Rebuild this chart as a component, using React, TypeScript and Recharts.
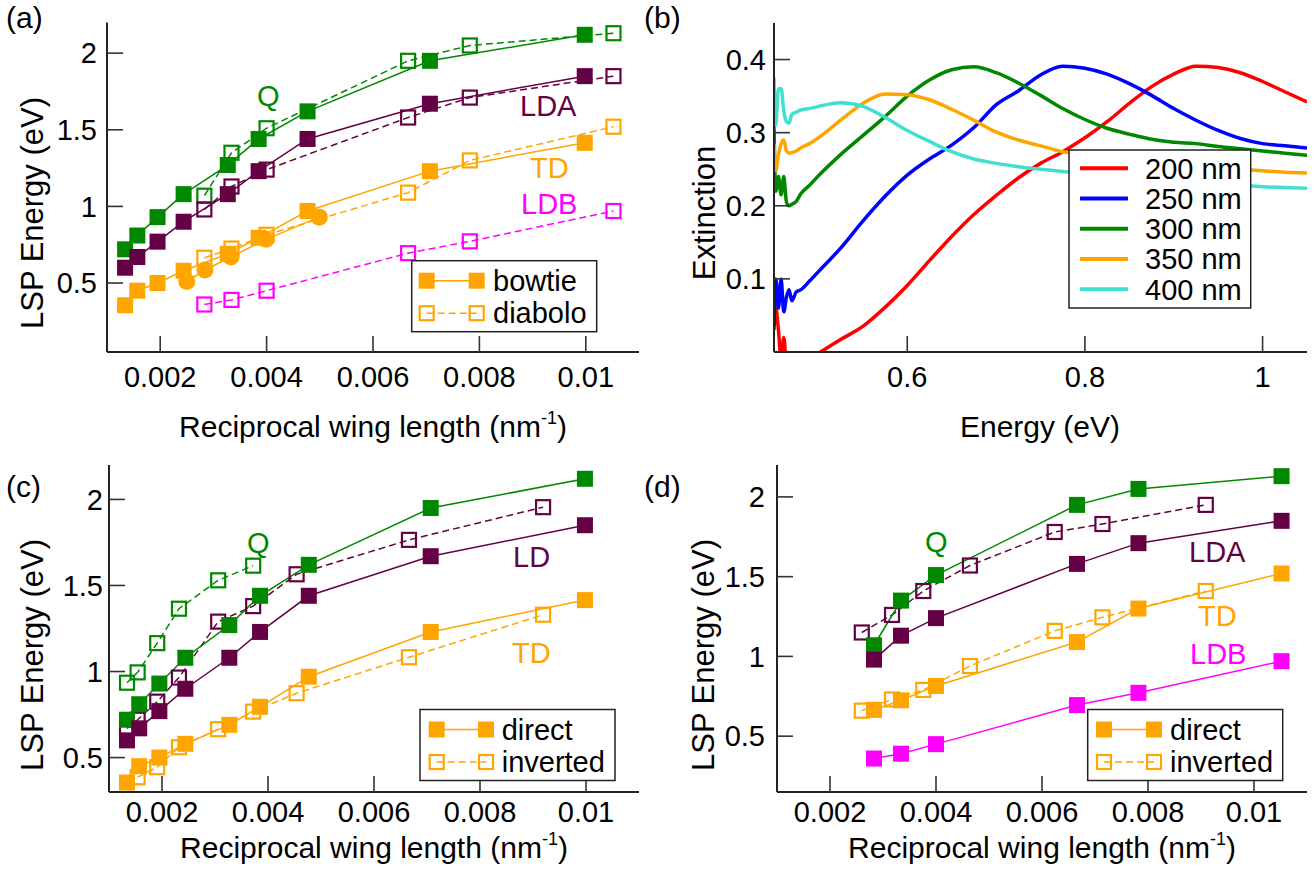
import React from 'react';
import { LineChart, Line, XAxis, YAxis } from 'recharts';

const FONT = '"Liberation Sans", Arial, Helvetica, sans-serif';
const GREEN = '#008800';
const PURPLE = '#660044';
const ORANGE = '#ffa500';
const MAGENTA = '#ff00ff';

// reciprocal wing lengths (nm^-1)
const bowtieX = [0.00134, 0.00157, 0.00195, 0.00244, 0.00327, 0.00385, 0.00477, 0.00707, 0.00998];
const diaboloX = [0.00283, 0.00334, 0.004, 0.00666, 0.00782, 0.01052];
const circleX = [0.0025, 0.00284, 0.00333, 0.00399, 0.00499];
const bowtieInvX = [0.00134, 0.00154, 0.00191, 0.00232, 0.00306, 0.00372, 0.00454, 0.00666, 0.00919];
const diaboloInvX = [0.0026, 0.00317, 0.00376, 0.00464, 0.00624, 0.00714, 0.00909];

// LSP energies (eV)
const bowtieQ = [0.72, 0.81, 0.93, 1.08, 1.27, 1.44, 1.62, 1.95, 2.12];
const bowtieLD = [0.6, 0.67, 0.77, 0.9, 1.08, 1.23, 1.44, 1.67, 1.85];
const bowtieTD = [0.355, 0.45, 0.5, 0.58, 0.69, 0.795, 0.97, 1.23, 1.415];
const diaboloQ = [1.07, 1.35, 1.51, 1.95, 2.05, 2.13];
const diaboloLDA = [0.98, 1.13, 1.24, 1.58, 1.71, 1.85];
const diaboloTD = [0.665, 0.725, 0.815, 1.09, 1.3, 1.52];
const diaboloLDB = [0.36, 0.39, 0.45, 0.695, 0.772, 0.97];
const circleTD = [0.51, 0.585, 0.67, 0.785, 0.93];
const bowtieInvQ = [0.935, 0.995, 1.165, 1.365, 1.53, 1.615];
const bowtieInvLD = [0.67, 0.72, 0.825, 0.965, 1.29, 1.38, 1.565, 1.765, 1.955];
const bowtieInvTD = [0.386, 0.444, 0.56, 0.665, 0.767, 0.874, 1.083, 1.33];
const diaboloInvLDA = [1.15, 1.26, 1.41, 1.57, 1.78, 1.83, 1.95];
const diaboloInvTD = [0.66, 0.73, 0.79, 0.94, 1.16, 1.245, 1.41];

// extinction spectra
const energyGrid = [0.45, 0.452, 0.455, 0.458, 0.461, 0.464, 0.467, 0.47, 0.475, 0.48, 0.49, 0.5, 0.525, 0.55, 0.575, 0.6, 0.625, 0.65, 0.675, 0.7, 0.725, 0.75, 0.775, 0.8, 0.825, 0.85, 0.875, 0.9, 0.925, 0.95, 0.975, 1.0, 1.025, 1.05];
const ext200 = [0.03, 0.06, 0.03, -0.01, 0.02, -0.02, -0.03, -0.03, -0.025, -0.02, -0.01, -0.002, 0.017, 0.035, 0.061, 0.091, 0.125, 0.158, 0.188, 0.214, 0.238, 0.258, 0.274, 0.293, 0.315, 0.34, 0.363, 0.38, 0.391, 0.389, 0.382, 0.37, 0.356, 0.342];
const ext250 = [0.035, 0.1, 0.06, 0.1, 0.055, 0.075, 0.085, 0.07, 0.082, 0.085, 0.097, 0.11, 0.142, 0.179, 0.213, 0.242, 0.264, 0.283, 0.307, 0.338, 0.357, 0.379, 0.391, 0.388, 0.38, 0.367, 0.351, 0.333, 0.317, 0.303, 0.292, 0.285, 0.282, 0.279];
const ext300 = [0.31, 0.22, 0.24, 0.215, 0.24, 0.205, 0.2, 0.202, 0.206, 0.216, 0.228, 0.241, 0.27, 0.296, 0.322, 0.35, 0.372, 0.386, 0.39, 0.382, 0.368, 0.351, 0.333, 0.318, 0.306, 0.298, 0.291, 0.287, 0.285, 0.281, 0.278, 0.275, 0.272, 0.269];
const ext350 = [0.285, 0.248, 0.27, 0.285, 0.29, 0.275, 0.272, 0.273, 0.275, 0.279, 0.285, 0.293, 0.317, 0.34, 0.353, 0.352, 0.345, 0.332, 0.317, 0.301, 0.29, 0.282, 0.274, 0.27, 0.266, 0.263, 0.26, 0.257, 0.255, 0.252, 0.25, 0.248, 0.246, 0.245];
const ext400 = [0.375, 0.31, 0.36, 0.36, 0.33, 0.315, 0.313, 0.325, 0.328, 0.331, 0.333, 0.336, 0.341, 0.336, 0.321, 0.303, 0.288, 0.274, 0.264, 0.258, 0.2535, 0.25, 0.247, 0.244, 0.241, 0.238, 0.236, 0.234, 0.232, 0.23, 0.228, 0.226, 0.225, 0.224];

// ticks
const wingTicks = [0.002, 0.004, 0.006, 0.008, 0.01];
const energyTicks = [0.5, 1, 1.5, 2];
const extEnergyTicks = [0.6, 0.8, 1];
const extTicks = [0.1, 0.2, 0.3, 0.4];
const spectraLabels = ['200 nm', '250 nm', '300 nm', '350 nm', '400 nm'];
const spectraColors = ['#ff0000', '#0000ff', GREEN, ORANGE, '#40e0d0'];

type Pt = { x: number; y: number };
const zip = (xs: number[], ys: number[]): Pt[] => ys.map((y, i) => ({ x: xs[i], y }));

type Marker = 'filled' | 'open' | 'circle' | 'none';
interface Series {
  id: string;
  data: Pt[];
  color: string;
  marker: Marker;
  dashed?: boolean;
  width?: number;
}

const makeDot = (color: string, marker: Marker) => (p: any) => {
  const k = `dot-${p.index}`;
  if (marker === 'none' || p.cx == null || p.cy == null) return <g key={k} />;
  if (marker === 'circle') return <circle key={k} cx={p.cx} cy={p.cy} r={8.5} fill={color} />;
  if (marker === 'filled')
    return <rect key={k} x={p.cx - 8} y={p.cy - 8} width={16} height={16} fill={color} />;
  return (
    <rect key={k} x={p.cx - 7} y={p.cy - 7} width={14} height={14} fill='none' stroke={color} strokeWidth={2.2} />
  );
};

interface PanelProps {
  left: number;
  top: number;
  width: number;
  height: number;
  margin: { top: number; right: number; bottom: number; left: number };
  xDomain: [number, number];
  yDomain: [number, number];
  xTicks: number[];
  yTicks: number[];
  xTickMargin: number;
  yTickMargin: number;
  series: Series[];
  curve?: 'linear' | 'monotone';
}

const tickStyle = { fill: '#000', fontSize: 29, fontFamily: FONT };
const frame = { stroke: '#222', strokeWidth: 2 };
const tickLn = { stroke: '#333', strokeWidth: 1.6 };

const Panel: React.FC<PanelProps> = (p) => (
  <div style={{ position: 'absolute', left: p.left, top: p.top }}>
    <LineChart width={p.width} height={p.height} margin={p.margin}>
      <XAxis
        xAxisId='b'
        type='number'
        dataKey='x'
        domain={p.xDomain}
        ticks={p.xTicks}
        interval={0}
        allowDataOverflow
        height={50}
        tickSize={-16}
        tickMargin={p.xTickMargin}
        tick={tickStyle}
        tickFormatter={(v: number) => String(v)}
        axisLine={frame}
        tickLine={tickLn}
      />
      <XAxis
        xAxisId='t'
        orientation='top'
        type='number'
        dataKey='x'
        domain={p.xDomain}
        ticks={p.xTicks}
        interval={0}
        allowDataOverflow
        height={0}
        tickSize={-16}
        tick={false}
        axisLine={frame}
        tickLine={tickLn}
      />
      <YAxis
        yAxisId='l'
        type='number'
        domain={p.yDomain}
        ticks={p.yTicks}
        interval={0}
        allowDataOverflow
        width={60}
        tickSize={-16}
        tickMargin={p.yTickMargin}
        tick={tickStyle}
        tickFormatter={(v: number) => String(v)}
        axisLine={frame}
        tickLine={tickLn}
      />
      <YAxis
        yAxisId='r'
        orientation='right'
        type='number'
        domain={p.yDomain}
        ticks={p.yTicks}
        interval={0}
        allowDataOverflow
        width={0}
        tickSize={-16}
        tick={false}
        axisLine={frame}
        tickLine={tickLn}
      />
      {p.series.map((s) => (
        <Line
          key={s.id}
          xAxisId='b'
          yAxisId='l'
          data={s.data}
          dataKey='y'
          type={p.curve || 'linear'}
          stroke={s.color}
          strokeWidth={s.width || 1.5}
          strokeDasharray={s.dashed ? '7 4' : undefined}
          dot={makeDot(s.color, s.marker)}
          activeDot={false}
          isAnimationActive={false}
        />
      ))}
    </LineChart>
  </div>
);

const seriesA: Series[] = [
  { id: 'bQ', data: zip(bowtieX, bowtieQ), color: GREEN, marker: 'filled' },
  { id: 'dQ', data: zip(diaboloX, diaboloQ), color: GREEN, marker: 'open', dashed: true },
  { id: 'bLD', data: zip(bowtieX, bowtieLD), color: PURPLE, marker: 'filled' },
  { id: 'dLDA', data: zip(diaboloX, diaboloLDA), color: PURPLE, marker: 'open', dashed: true },
  { id: 'bTD', data: zip(bowtieX, bowtieTD), color: ORANGE, marker: 'filled' },
  { id: 'dTD', data: zip(diaboloX, diaboloTD), color: ORANGE, marker: 'open', dashed: true },
  { id: 'cTD', data: zip(circleX, circleTD), color: ORANGE, marker: 'circle' },
  { id: 'dLDB', data: zip(diaboloX, diaboloLDB), color: MAGENTA, marker: 'open', dashed: true },
];

const seriesB: Series[] = [ext200, ext250, ext300, ext350, ext400].map((v, i) => ({
  id: spectraLabels[i],
  data: zip(energyGrid, v),
  color: spectraColors[i],
  marker: 'none' as Marker,
  width: 3.5,
}));

const seriesC: Series[] = [
  { id: 'iQ', data: zip(bowtieInvX, bowtieInvQ), color: GREEN, marker: 'open', dashed: true },
  { id: 'iLD', data: zip(bowtieInvX, bowtieInvLD), color: PURPLE, marker: 'open', dashed: true },
  { id: 'iTD', data: zip(bowtieInvX.slice(1), bowtieInvTD), color: ORANGE, marker: 'open', dashed: true },
  { id: 'Q', data: zip(bowtieX, bowtieQ), color: GREEN, marker: 'filled' },
  { id: 'LD', data: zip(bowtieX, bowtieLD), color: PURPLE, marker: 'filled' },
  { id: 'TD', data: zip(bowtieX, bowtieTD), color: ORANGE, marker: 'filled' },
];

const seriesD: Series[] = [
  { id: 'iLDA', data: zip(diaboloInvX, diaboloInvLDA), color: PURPLE, marker: 'open', dashed: true },
  { id: 'iTD', data: zip(diaboloInvX, diaboloInvTD), color: ORANGE, marker: 'open', dashed: true },
  { id: 'Q', data: zip(diaboloX, diaboloQ), color: GREEN, marker: 'filled' },
  { id: 'LDA', data: zip(diaboloX, diaboloLDA), color: PURPLE, marker: 'filled' },
  { id: 'TD', data: zip(diaboloX, diaboloTD), color: ORANGE, marker: 'filled' },
  { id: 'LDB', data: zip(diaboloX, diaboloLDB), color: MAGENTA, marker: 'filled' },
];

const MarkerKey = ({ x1, x2, y, filled, dashed }: { x1: number; x2: number; y: number; filled: boolean; dashed: boolean }) => (
  <g>
    <line x1={x1} x2={x2} y1={y} y2={y} stroke={ORANGE} strokeWidth={1.5} strokeDasharray={dashed ? '7 4' : undefined} />
    {[x1, x2].map((cx) =>
      filled ? (
        <rect key={cx} x={cx - 8} y={y - 8} width={16} height={16} fill={ORANGE} />
      ) : (
        <rect key={cx} x={cx - 7} y={y - 7} width={14} height={14} fill='none' stroke={ORANGE} strokeWidth={2.2} />
      )
    )}
  </g>
);

const TwoRowLegend = ({ x, y, w, labels, m1, m2, tx }: { x: number; y: number; w: number; labels: [string, string]; m1: number; m2: number; tx: number }) => (
  <g>
    <rect x={x} y={y} width={w} height={71} fill='#fff' stroke='#222' strokeWidth={1.5} />
    <MarkerKey x1={m1} x2={m2} y={y + 20} filled dashed={false} />
    <MarkerKey x1={m1} x2={m2} y={y + 52.5} filled={false} dashed />
    <text x={tx} y={y + 30} fontSize={29}>{labels[0]}</text>
    <text x={tx} y={y + 62.5} fontSize={29}>{labels[1]}</text>
  </g>
);

const XTitle = ({ x, y, wing }: { x: number; y: number; wing: boolean }) =>
  wing ? (
    <text x={x} y={y} fontSize={30} textAnchor='middle'>
      Reciprocal wing length (nm<tspan dy={-13} fontSize={18}>-1</tspan>
      <tspan dy={13}>)</tspan>
    </text>
  ) : (
    <text x={x} y={y} fontSize={30} textAnchor='middle'>Energy (eV)</text>
  );

const YTitle = ({ x, y, label }: { x: number; y: number; label: string }) => (
  <text x={x} y={y} fontSize={31} textAnchor='middle' dominantBaseline='central' transform={`rotate(-90 ${x} ${y})`}>
    {label}
  </text>
);

const Overlay = () => (
  <svg width={1315} height={873} style={{ position: 'absolute', left: 0, top: 0, pointerEvents: 'none' }} fontFamily={FONT}>
    <text x={6} y={28} fontSize={30}>(a)</text>
    <text x={644} y={28} fontSize={30}>(b)</text>
    <text x={6} y={497} fontSize={30}>(c)</text>
    <text x={644} y={497} fontSize={30}>(d)</text>

    <XTitle x={373} y={437} wing />
    <XTitle x={1040} y={437} wing={false} />
    <XTitle x={374} y={858} wing />
    <XTitle x={1042} y={858} wing />
    <YTitle x={32} y={213} label='LSP Energy (eV)' />
    <YTitle x={704} y={213} label='Extinction' />
    <YTitle x={32} y={655} label='LSP Energy (eV)' />
    <YTitle x={703} y={655} label='LSP Energy (eV)' />

    <g fontSize={29}>
      <text x={257} y={106} fill={GREEN}>Q</text>
      <text x={520} y={116} fill={PURPLE}>LDA</text>
      <text x={530} y={178} fill={ORANGE}>TD</text>
      <text x={521} y={214} fill={MAGENTA}>LDB</text>

      <text x={247} y={553} fill={GREEN}>Q</text>
      <text x={513} y={567} fill={PURPLE}>LD</text>
      <text x={512} y={663} fill={ORANGE}>TD</text>

      <text x={925} y={552} fill={GREEN}>Q</text>
      <text x={1189} y={562} fill={PURPLE}>LDA</text>
      <text x={1198} y={626} fill={ORANGE}>TD</text>
      <text x={1190} y={664} fill={MAGENTA}>LDB</text>
    </g>

    <TwoRowLegend x={411.7} y={260.7} w={185} labels={['bowtie', 'diabolo']} m1={426.7} m2={476.7} tx={493} />
    <TwoRowLegend x={420} y={709.5} w={195} labels={['direct', 'inverted']} m1={436.7} m2={486} tx={501.7} />
    <TwoRowLegend x={1087.7} y={709.5} w={195} labels={['direct', 'inverted']} m1={1104} m2={1154} tx={1170} />

    <g>
      <rect x={1069} y={150} width={181.7} height={158} fill='#fff' stroke='#222' strokeWidth={1.5} />
      {spectraLabels.map((lab, i) => (
        <g key={lab}>
          <line x1={1080} x2={1128} y1={168.3 + i * 30.25} y2={168.3 + i * 30.25} stroke={spectraColors[i]} strokeWidth={4} />
          <text x={1145} y={178.5 + i * 30.25} fontSize={29}>{lab}</text>
        </g>
      ))}
    </g>
  </svg>
);

export default function App() {
  return (
    <div style={{ position: 'absolute', left: 0, top: 0, width: 1315, height: 873, background: '#fff', fontFamily: FONT }}>
      <Panel
        left={0}
        top={0}
        width={655}
        height={440}
        margin={{ top: 22.5, right: 16, bottom: 38, left: 47 }}
        xDomain={[0.001, 0.011]}
        yDomain={[0.05, 2.2]}
        xTicks={wingTicks}
        yTicks={energyTicks}
        xTickMargin={30}
        yTickMargin={26}
        series={seriesA}
      />
      <Panel
        left={660}
        top={0}
        width={655}
        height={440}
        margin={{ top: 23, right: 8, bottom: 38, left: 54 }}
        xDomain={[0.45, 1.05]}
        yDomain={[0, 0.45]}
        xTicks={extEnergyTicks}
        yTicks={extTicks}
        xTickMargin={30}
        yTickMargin={24}
        series={seriesB}
        curve='monotone'
      />
      <Panel
        left={0}
        top={440}
        width={655}
        height={433}
        margin={{ top: 25, right: 16, bottom: 31, left: 49 }}
        xDomain={[0.001, 0.011]}
        yDomain={[0.3, 2.2]}
        xTicks={wingTicks}
        yTicks={energyTicks}
        xTickMargin={25}
        yTickMargin={22}
        series={seriesC}
      />
      <Panel
        left={660}
        top={440}
        width={655}
        height={433}
        margin={{ top: 25, right: 8, bottom: 31, left: 57 }}
        xDomain={[0.001, 0.011]}
        yDomain={[0.15, 2.2]}
        xTicks={wingTicks}
        yTicks={energyTicks}
        xTickMargin={25}
        yTickMargin={28}
        series={seriesD}
      />
      <Overlay />
    </div>
  );
}
